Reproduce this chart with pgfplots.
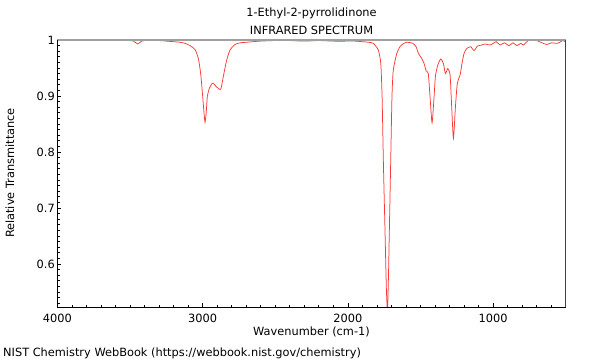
\documentclass[border=0pt]{standalone}
\usepackage{fontspec}
\setmainfont{DejaVu Sans}
\usepackage{pgfplots}
\pgfplotsset{compat=1.18}
\definecolor{spec}{RGB}{255,55,55}
\definecolor{topgray}{RGB}{160,160,160}
\pgfplotstableread{
wn T
4000 0.999
3900 0.999
3800 0.9995
3700 0.999
3600 0.999
3500 0.999
3475 0.998
3446 0.993
3420 0.998
3400 0.999
3300 0.999
3250 0.998
3200 0.997
3155 0.996
3120 0.994
3086 0.990
3052 0.983
3029 0.967
3013 0.940
2999 0.899
2990 0.870
2983 0.853
2975 0.870
2967 0.899
2953 0.914
2930 0.923
2903 0.916
2875 0.912
2857 0.935
2834 0.964
2811 0.982
2777 0.992
2740 0.995
2696 0.996
2605 0.998
2500 0.999
2400 0.999
2300 0.998
2200 0.999
2100 0.998
2000 0.998
1950 0.998
1900 0.997
1860 0.996
1824 0.994
1790 0.982
1773 0.958
1764 0.899
1755 0.780
1744 0.660
1735 0.560
1727 0.515
1720 0.580
1714 0.660
1705 0.780
1696 0.899
1687 0.946
1663 0.976
1641 0.988
1620 0.993
1594 0.996
1565 0.995
1551 0.994
1530 0.988
1514 0.976
1491 0.967
1475 0.958
1461 0.945
1446 0.940
1434 0.899
1420 0.852
1406 0.899
1397 0.935
1381 0.955
1360 0.966
1342 0.958
1328 0.940
1312 0.949
1296 0.9375
1285 0.881
1273 0.824
1259 0.881
1246 0.923
1227 0.9375
1214 0.958
1200 0.976
1181 0.985
1154 0.988
1131 0.981
1108 0.989
1078 0.991
1055 0.993
1020 0.991
979 0.997
952 0.991
922 0.995
890 0.990
864 0.995
836 0.990
809 0.994
791 0.991
757 0.999
699 0.999
665 0.995
630 0.992
596 0.995
557 0.994
520 0.999
504 0.997
}\spectrum
\begin{document}
\begin{tikzpicture}[x=1bp,y=1bp,font=\fontsize{11.4}{13.5}\selectfont]
\useasboundingbox (0,0) rectangle (600,360);
\begin{axis}[
  name=ax,
  at={(57.3bp,53bp)}, anchor=south west,
  scale only axis, width=508.4bp, height=267bp,
  x dir=reverse, xmin=500, xmax=4000, ymin=0.523, ymax=1,
  axis line style={draw=none},
  xtick={1000,2000,3000,4000}, xticklabels={1000,2000,3000,4000},
  ytick={0.6,0.7,0.8,0.9,1}, yticklabels={0.6,0.7,0.8,0.9,1},
  minor xtick={500,600,...,4000},
  minor ytick={0.53,0.54,...,0.995},
  xtick pos=bottom, ytick pos=left,
  tick align=inside,
  major tick length=4bp, minor tick length=2.5bp,
  every tick/.style={black, line width=0.6bp},
  xticklabel style={yshift=-3.5bp},
  yticklabel style={xshift=1bp},
  tick label style={font=\fontsize{11.4}{13.5}\selectfont},
]
\addplot[spec, line width=0.75bp, smooth, tension=0.35] table[x=wn,y=T] {\spectrum};
\end{axis}
\draw[topgray, line width=2bp] (ax.north west) -- (ax.north east);
\draw[black!75, line width=0.8bp] (ax.north east) -- (ax.south east);
\draw[black, line width=0.8bp] (ax.south east) -- (ax.south west) -- (ax.north west);
\node at (311.5,347) {1-Ethyl-2-pyrrolidinone};
\node at (311.5,330) {INFRARED SPECTRUM};
\node at (311.5,28) {Wavenumber (cm-1)};
\node[rotate=90] at (10,187) {Relative Transmittance};
\node[anchor=west, inner sep=0pt] at (3,7) {NIST Chemistry WebBook (https://webbook.nist.gov/chemistry)};
\end{tikzpicture}
\end{document}
